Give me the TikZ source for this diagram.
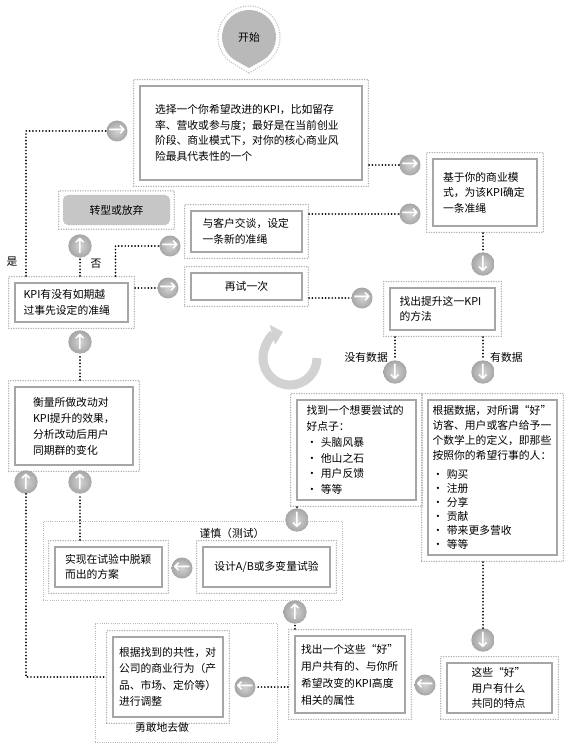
\documentclass[tikz,border=0pt]{standalone}
\usepackage{fontspec}
\newfontfamily\cjk{Noto Sans CJK SC}
\newfontfamily\arrowfont{DejaVu Sans}
\usetikzlibrary{arrows.meta,calc,fit,shadings}
\begin{document}
\begin{tikzpicture}[x=1pt,y=-1pt,
  ibox/.style={draw=gray!70, line width=1.7pt, fill=white, inner xsep=0pt, inner ysep=2pt, align=left, font=\cjk\fontsize{10.8}{15.5}\selectfont},
  obox/.style={draw=gray!65, line width=1.5pt, dash pattern=on 0pt off 2.5pt, line cap=round, inner sep=5.5pt},
  grp/.style={draw=gray!55, line width=0.6pt, dash pattern=on 1pt off 1.2pt, inner sep=0pt},
  conn/.style={draw=black, line width=1.9pt, dash pattern=on 0pt off 3.3pt, line cap=round},
  circ/.style={circle, minimum size=21pt, inner sep=0pt, inner color=gray!35, outer color=gray!70, text=white, font=\arrowfont\fontsize{21}{21}\selectfont},
  lbl/.style={font=\cjk\fontsize{10.8}{13}\selectfont, inner sep=1pt},
]
\fill[white] (0,0) rectangle (565,751);
\useasboundingbox (0,0) rectangle (565,751);

% group boxes
\node[grp, minimum width=299pt, minimum height=79pt] (g1) at (192.5,560.5) {};
\node[grp, minimum width=182pt, minimum height=119pt] (g2) at (186,682.5) {};
\node[lbl] (g1t) at (232,533) {谨慎（测试）};
\node[lbl] (g2t) at (162,727) {勇敢地去做};

% start teardrop
\fill[gray!55] (249,68) -- ($(249,37)+(60.6:27)$) arc[start angle=60.6, end angle=-240.6, radius=27] -- cycle;
\draw[obox, draw=gray!50] (249,73) -- ($(249,37)+(59.4:31)$) arc[start angle=59.4, end angle=-239.4, radius=31] -- cycle;
\node[lbl] (start) at (249,37) {开始};

% cycle arrow
\draw[gray!35, line width=9pt, -{Triangle[length=11pt,width=20pt]}] ($(290,358)+(0:27)$) arc[start angle=0, end angle=255, radius=27];

% boxes
\node[ibox, minimum width=222pt, minimum height=94pt, text width=192pt] (b1) at (251,133) {选择一个你希望改进的KPI，比如留存\\率、营收或参与度；最好是在当前创业\\阶段、商业模式下，对你的核心商业风\\险最具代表性的一个};
\node[ibox, minimum width=104pt, minimum height=67pt, text width=84pt] (b2) at (485,192.5) {基于你的商业模\\式，为该KPI确定\\一条准绳};
\node[lbl, fill=gray!45, rounded corners=5pt, minimum width=107pt, minimum height=30pt] (zx) at (116.5,210) {转型或放弃};
\node[ibox, minimum width=113pt, minimum height=39pt, text width=96pt] (kpi) at (71.5,302.5) {KPI有没有如期越\\过事先设定的准绳};
\node[ibox, minimum width=111pt, minimum height=41pt, text width=88pt] (kh) at (246.5,231.5) {与客户交谈，设定\\一条新的准绳};
\node[ibox, minimum width=111pt, minimum height=27pt] (zs) at (246.5,286.5) {再试一次};
\node[ibox, minimum width=105pt, minimum height=42pt, text width=86pt] (f) at (442.5,309) {找出提升这一KPI\\的方法};
\node[ibox, minimum width=118pt, minimum height=78pt, text width=82pt, font=\cjk\fontsize{10.8}{16}\selectfont] (hl) at (74,426) {衡量所做改动对\\KPI提升的效果，\\分析改动后用户\\同期群的变化};
\node[ibox, minimum width=119pt, minimum height=100pt, text width=100pt] (hd) at (356.5,450) {找到一个想要尝试的\\好点子：\\[1pt]• 头脑风暴\\• 他山之石\\• 用户反馈\\• 等等};
\node[ibox, minimum width=129pt, minimum height=155pt, text width=120pt, font=\cjk\fontsize{10.8}{15}\selectfont] (rl) at (492.5,477.5) {根据数据，对所谓“好”\\访客、用户或客户给予一\\个数学上的定义，即那些\\按照你的希望行事的人：\\[4pt]• 购买\\[-1pt]• 注册\\[-1pt]• 分享\\[-1pt]• 贡献\\[-1pt]• 带来更多营收\\[-1pt]• 等等};
\node[ibox, minimum width=107pt, minimum height=40pt, text width=87pt] (sx) at (108.5,567) {实现在试验中脱颖\\而出的方案};
\node[ibox, minimum width=127pt, minimum height=40pt] (sj) at (266.5,567) {设计A/B或多变量试验};
\node[ibox, minimum width=110pt, minimum height=80pt, text width=98pt, font=\cjk\fontsize{10.8}{16.5}\selectfont] (gj) at (168,677) {根据找到的共性，对\\公司的商业行为（产\\品、市场、定价等）\\进行调整};
\node[ibox, minimum width=110pt, minimum height=77pt, text width=98pt, font=\cjk\fontsize{10.8}{17}\selectfont] (zc) at (350,674.5) {找出一个这些“好”\\用户共有的、与你所\\希望改变的KPI高度\\相关的属性};
\node[ibox, minimum width=105pt, minimum height=50pt, text width=56pt] (tx) at (499.5,688) {这些“好”\\用户有什么\\共同的特点};

% outer dotted frames
\node[obox, fit=(b1)] (b1o) {};
\node[obox, fit=(b2)] (b2o) {};
\node[obox, fit=(zx), inner sep=4pt] (zxo) {};
\node[obox, fit=(kpi)] (kpio) {};
\node[obox, fit=(kh)] (kho) {};
\node[obox, fit=(zs)] (zso) {};
\node[obox, fit=(f)] (fo) {};
\node[obox, fit=(hl)] (hlo) {};
\node[obox, fit=(hd)] (hdo) {};
\node[obox, fit=(rl)] (rlo) {};
\node[obox, fit=(sx)] (sxo) {};
\node[obox, fit=(sj)] (sjo) {};
\node[obox, fit=(gj)] (gjo) {};
\node[obox, fit=(zc)] (zco) {};
\node[obox, fit=(tx)] (txo) {};

% circles
\node[circ] (c1) at (117,131) {→};
\node[circ] (c2) at (410,165) {→};
\node[circ] (c3) at (410,214) {→};
\node[circ] (c4) at (483,264) {↓};
\node[circ] (c5) at (80,246) {↑};
\node[circ] (c6) at (170,246) {→};
\node[circ] (c7a) at (168,288) {→};
\node[circ] (c7b) at (362,298) {→};
\node[circ] (c8) at (395,372) {↓};
\node[circ] (c9) at (483,372) {↓};
\node[circ] (c10) at (80,342) {↑};
\node[circ] (c11) at (26,482) {↑};
\node[circ] (c12) at (80,482) {↑};
\node[circ] (c13) at (297,520) {↓};
\node[circ] (c14) at (182,568) {←};
\node[circ] (c15) at (295,612) {↑};
\node[circ] (c16) at (245,687) {←};
\node[circ] (c17) at (425,685) {←};
\node[circ] (c18) at (483,640) {↓};

% labels
\node[lbl] (yes) at (12,262) {是};
\node[lbl] (no) at (96,264) {否};
\node[lbl, anchor=east] (nd) at (389,357) {没有数据};
\node[lbl, anchor=west] (yd) at (489,357) {有数据};

% connectors
\draw[conn] (c11 |- kpio.north) |- (c1);
\draw[conn] (b1o.east |- c2) -- (c2);
\draw[conn] (kho.east |- c3) -- (c3);
\draw[conn] (b2o.south -| c4) -- (c4);
\draw[conn] (kpio.north -| c5) -- (c5);
\draw[conn] ([xshift=44pt]kpio.north) |- (c6);
\draw[conn] (kpio.east |- c7a) -- (c7a);
\draw[conn] (zso.east |- c7b) -- (c7b);
\draw[conn] (fo.south -| c8) -- (c8);
\draw[conn] (fo.south -| c9) -- (c9);
\draw[conn] (hlo.north -| c10) -- (c10);
\draw[conn] (c11) |- (gjo.west);
\draw[conn] (sxo.north -| c12) -- (c12);
\draw[conn] (hdo.south -| c13) -- (c13);
\draw[conn] (zco.north -| c15) -- (c15);
\draw[conn] (zco.west |- c16) -- (c16);
\draw[conn] (rlo.south -| c18) -- (c18);
\end{tikzpicture}
\end{document}
